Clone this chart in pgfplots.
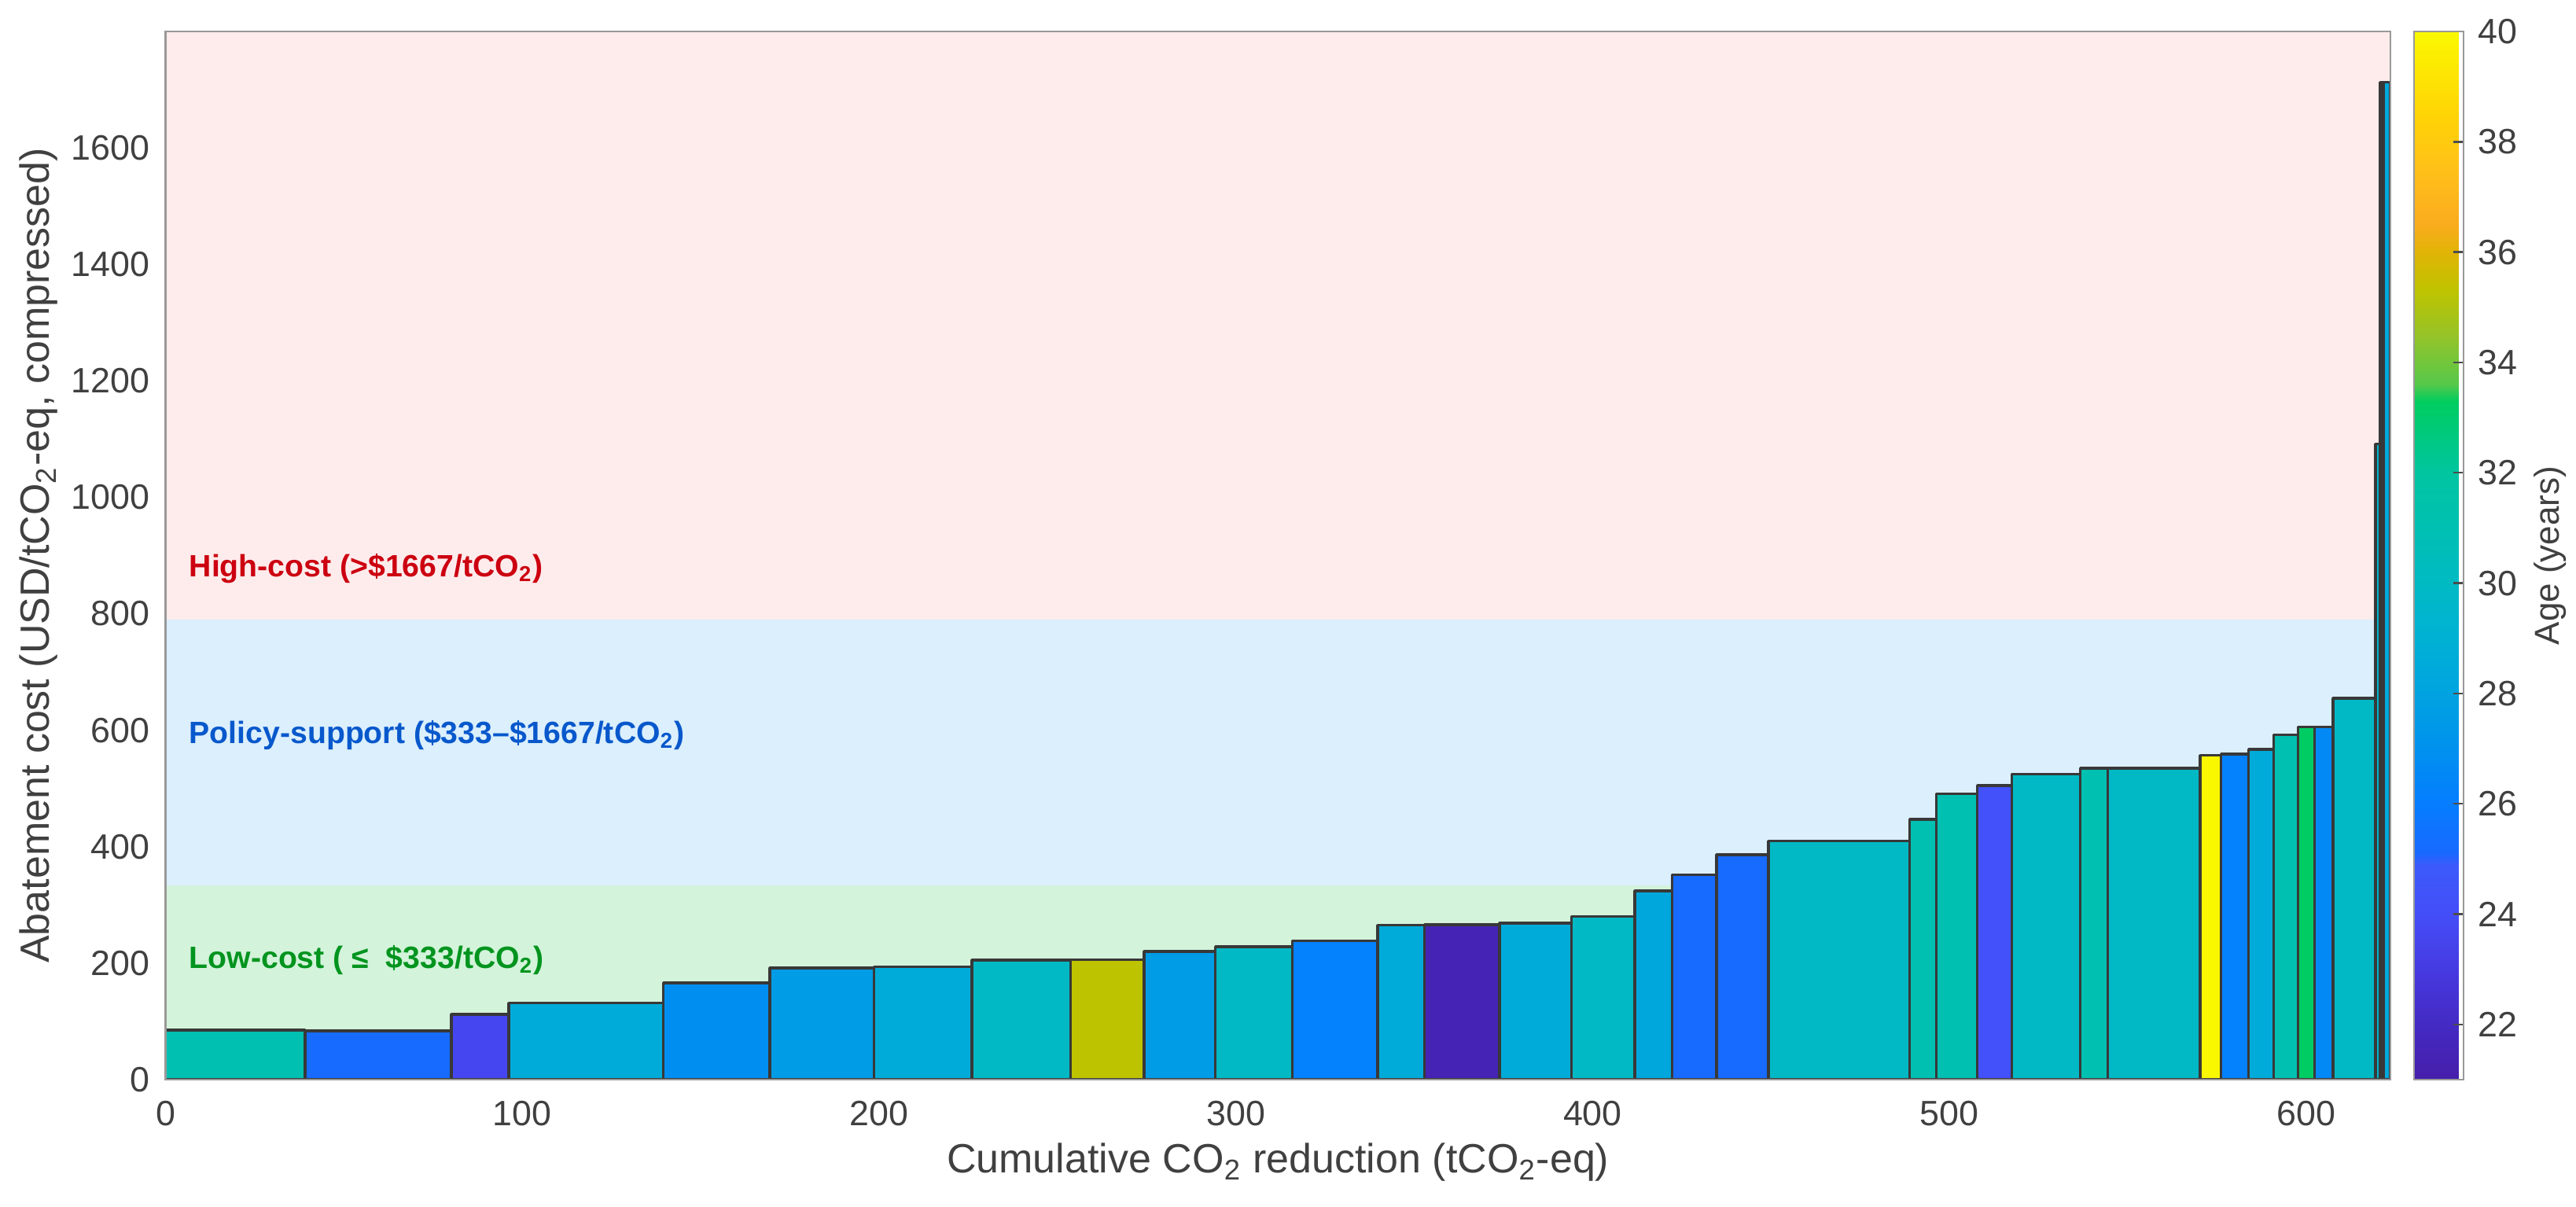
\documentclass[border=0pt]{standalone}
\usepackage{fontspec}
\setmainfont{Liberation Sans}
\usepackage{pgfplots}
\pgfplotsset{compat=1.18}
\usepgfplotslibrary{patchplots}
\definecolor{bandred}{RGB}{254,236,236}
\definecolor{bandblue}{RGB}{219,239,253}
\definecolor{bandgreen}{RGB}{211,243,218}
\definecolor{txtred}{RGB}{204,0,16}
\definecolor{txtblue}{RGB}{8,88,204}
\definecolor{txtgreen}{RGB}{0,148,30}
\definecolor{txtgray}{RGB}{64,64,64}
\pgfplotsset{colormap={agemap}{
 rgb255(0pt)=(70,30,170)
 rgb255(1pt)=(68,42,195)
 rgb255(2pt)=(70,58,225)
 rgb255(3pt)=(68,78,248)
 rgb255(3.9pt)=(60,90,252)
 rgb255(4.1pt)=(25,105,255)
 rgb255(5pt)=(5,125,255)
 rgb255(6pt)=(0,145,238)
 rgb255(7pt)=(0,163,224)
 rgb255(8pt)=(0,177,212)
 rgb255(9pt)=(0,186,195)
 rgb255(10pt)=(0,192,178)
 rgb255(11pt)=(0,197,160)
 rgb255(12.3pt)=(0,205,95)
 rgb255(12.6pt)=(85,200,75)
 rgb255(13.5pt)=(150,195,40)
 rgb255(14.3pt)=(190,195,0)
 rgb255(15pt)=(225,180,5)
 rgb255(15.5pt)=(250,172,30)
 rgb255(16.5pt)=(255,192,25)
 rgb255(17.5pt)=(255,212,5)
 rgb255(19pt)=(250,248,0)
}}
\begin{document}
\begin{tikzpicture}
\useasboundingbox (-52.625pt,-40.25pt) rectangle (766.375pt,343.25pt);
\begin{axis}[
 at={(0pt,0pt)}, anchor=south west, scale only axis,
 width=707.375pt, height=333.25pt,
 xmin=0, xmax=623.6, ymin=0, ymax=1800,
 xtick={0,100,...,600}, ytick={0,200,...,1600},
 /pgf/number format/1000 sep={},
 /pgf/number format/assume math mode=true,
 scaled ticks=false,
 major tick length=0pt,
 tick style={draw=none},
 axis line style={draw=black!40, line width=0.6pt},
 axis on top,
 tick label style={font=\fontsize{11.2}{13}\selectfont, text=txtgray, inner sep=0pt},
 yticklabel style={xshift=-4.9pt},
 xticklabel style={yshift=-6.5pt},
 label style={font=\fontsize{13}{15}\selectfont, text=txtgray, inner sep=0pt},
 xlabel={Cumulative CO\textsubscript{2} reduction (tCO\textsubscript{2}-eq)},
 ylabel={Abatement cost (USD/tCO\textsubscript{2}-eq, compressed)},
 xlabel style={at={(axis description cs:0.5,0)}, anchor=center, yshift=-26.25pt},
 ylabel style={at={(axis description cs:0,0.5)}, anchor=center, yshift=40.4pt},
 colormap name=agemap,
 point meta min=21, point meta max=40,
 colorbar,
 colorbar style={
   at={(parent axis.north east)}, anchor=north west, xshift=-1.035pt,
   width=15.75pt, height=333.25pt, scale only axis,
   ytick={22,24,...,40},
   ytick pos=right, yticklabel pos=right,
   tick align=inside,
   major tick length=3.3pt,
   /pgf/number format/assume math mode=true,
   tick style={draw=black!70, line width=0.6pt},
   axis line style={draw=black!40, line width=0.6pt},
   yticklabel style={font=\fontsize{11.2}{13}\selectfont, text=txtgray, inner sep=0pt, xshift=4.5pt},
   ylabel={Age (years)},
   ylabel style={font=\fontsize{11}{13}\selectfont, text=txtgray, inner sep=0pt, at={(axis description cs:1,0.5)}, anchor=center, yshift=-27.5pt},
 },
]
% background bands
\addplot[fill=bandgreen, draw=none] coordinates {(0,0) (623.6,0) (623.6,333) (0,333)} --cycle;
\addplot[fill=bandblue, draw=none] coordinates {(0,333) (623.6,333) (623.6,790) (0,790)} --cycle;
\addplot[fill=bandred, draw=none] coordinates {(0,790) (623.6,790) (623.6,1800) (0,1800)} --cycle;
% bars
\addplot[patch, patch type=rectangle, shader=faceted, faceted color=black!78, line width=0.85pt, point meta=explicit]
table[x=x, y=y, meta=c] {
x y c
0 0 31.0
39.1 0 31.0
39.1 85 31.0
0 85 31.0
39.1 0 25.2
80.1 0 25.2
80.1 84 25.2
39.1 84 25.2
80.1 0 23.6
96.2 0 23.6
96.2 112 23.6
80.1 112 23.6
96.2 0 28.6
139.5 0 28.6
139.5 132 28.6
96.2 132 28.6
139.5 0 26.9
169.4 0 26.9
169.4 166 26.9
139.5 166 26.9
169.4 0 27.6
198.6 0 27.6
198.6 192 27.6
169.4 192 27.6
198.6 0 28.6
226.0 0 28.6
226.0 194 28.6
198.6 194 28.6
226.0 0 29.9
253.7 0 29.9
253.7 205 29.9
226.0 205 29.9
253.7 0 35.3
274.3 0 35.3
274.3 206 35.3
253.7 206 35.3
274.3 0 27.6
294.2 0 27.6
294.2 220 27.6
274.3 220 27.6
294.2 0 29.9
315.8 0 29.9
315.8 228 29.9
294.2 228 29.9
315.8 0 26.2
339.7 0 26.2
339.7 238 26.2
315.8 238 26.2
339.7 0 28.6
352.8 0 28.6
352.8 265 28.6
339.7 265 28.6
352.8 0 21.4
373.9 0 21.4
373.9 266 21.4
352.8 266 21.4
373.9 0 28.6
394.0 0 28.6
394.0 269 28.6
373.9 269 28.6
394.0 0 29.9
411.8 0 29.9
411.8 280 29.9
394.0 280 29.9
411.8 0 28.3
422.3 0 28.3
422.3 324 28.3
411.8 324 28.3
422.3 0 25.2
434.7 0 25.2
434.7 352 25.2
422.3 352 25.2
434.7 0 25.2
449.3 0 25.2
449.3 386 25.2
434.7 386 25.2
449.3 0 29.9
488.8 0 29.9
488.8 410 29.9
449.3 410 29.9
488.8 0 31.0
496.3 0 31.0
496.3 447 31.0
488.8 447 31.0
496.3 0 31.0
507.8 0 31.0
507.8 491 31.0
496.3 491 31.0
507.8 0 24.2
517.5 0 24.2
517.5 505 24.2
507.8 505 24.2
517.5 0 29.9
536.6 0 29.9
536.6 525 29.9
517.5 525 29.9
536.6 0 31.0
544.3 0 31.0
544.3 535 31.0
536.6 535 31.0
544.3 0 29.9
570.3 0 29.9
570.3 535 29.9
544.3 535 29.9
570.3 0 40.0
576.1 0 40.0
576.1 557 40.0
570.3 557 40.0
576.1 0 26.2
583.8 0 26.2
583.8 559 26.2
576.1 559 26.2
583.8 0 28.6
590.9 0 28.6
590.9 567 28.6
583.8 567 28.6
590.9 0 31.0
597.7 0 31.0
597.7 592 31.0
590.9 592 31.0
597.7 0 33.2
602.3 0 33.2
602.3 606 33.2
597.7 606 33.2
602.3 0 26.6
607.5 0 26.6
607.5 606 26.6
602.3 606 26.6
607.5 0 29.9
619.4 0 29.9
619.4 655 29.9
607.5 655 29.9
619.4 0 29.5
620.7 0 29.5
620.7 1092 29.5
619.4 1092 29.5
620.7 0 29.0
621.6 0 29.0
621.6 1713 29.0
620.7 1713 29.0
621.6 0 28.4
623.5 0 28.4
623.5 1713 28.4
621.6 1713 28.4
};
% band labels
\node[anchor=west, inner sep=0pt, text=txtred, font=\fontsize{9.8}{12}\selectfont\bfseries] at (axis cs:6.5,877) {High-cost (>\$1667/tCO\textsubscript{2})};
\node[anchor=west, inner sep=0pt, text=txtblue, font=\fontsize{9.8}{12}\selectfont\bfseries] at (axis cs:6.5,591) {Policy-support (\$333–\$1667/tCO\textsubscript{2})};
\node[anchor=west, inner sep=0pt, text=txtgreen, font=\fontsize{9.8}{12}\selectfont\bfseries] at (axis cs:6.5,205) {Low-cost (~≤ ~\$333/tCO\textsubscript{2})};
\end{axis}
\end{tikzpicture}
\end{document}
